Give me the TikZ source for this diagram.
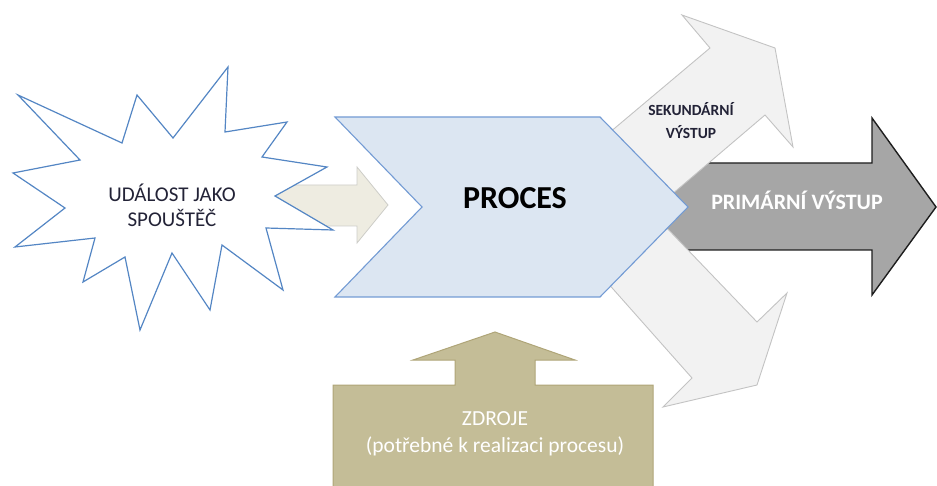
\documentclass[tikz,border=0pt]{standalone}
\usepackage{fontspec}
\setmainfont{Carlito}
\definecolor{starline}{RGB}{84,134,196}
\definecolor{chevfill}{RGB}{220,230,242}
\definecolor{chevline}{RGB}{115,155,212}
\definecolor{primfill}{RGB}{166,166,166}
\definecolor{primline}{RGB}{30,30,30}
\definecolor{secfill}{RGB}{242,242,242}
\definecolor{secline}{RGB}{195,195,195}
\definecolor{trigfill}{RGB}{238,236,225}
\definecolor{trigline}{RGB}{205,205,200}
\definecolor{resfill}{RGB}{196,189,151}
\definecolor{resline}{RGB}{175,165,120}
\definecolor{darktext}{RGB}{35,35,55}
\tikzset{
  primshape/.style={fill=primfill,draw=primline,line width=1.4pt,line join=miter},
  secshape/.style={fill=secfill,draw=secline,line width=0.9pt,line join=miter},
  chevshape/.style={fill=chevfill,draw=chevline,line width=1.1pt,line join=miter},
  trigshape/.style={fill=trigfill,draw=trigline,line width=0.8pt},
  starshape/.style={fill=white,draw=starline,line width=1.2pt,line join=miter},
  resshape/.style={fill=resfill,draw=resline,line width=1pt},
  lbl/.style={align=center,inner sep=0pt}
}
\begin{document}
\begin{tikzpicture}[x=1pt,y=-1pt]
\useasboundingbox (0,0) rectangle (937,486);
% primary output arrow
\path[primshape] (650,163) -- (872,163) -- (872,118) -- (936,207) -- (872,295) -- (872,250) -- (650,250) -- cycle;
% secondary output arrows
\path[secshape] (590,149) -- (710,48) -- (682,15) -- (775,48) -- (793,147) -- (765,115) -- (630,230) -- cycle;
\path[secshape] (640,200) -- (757,322) -- (787,293) -- (757,385) -- (663,407) -- (692,378) -- (590,263) -- cycle;
% process chevron
\path[chevshape] (335,117) -- (600,117) -- (688,207) -- (600,297) -- (335,297) -- (422,207) -- cycle;
% trigger arrow
\path[trigshape] (250,185) -- (357,185) -- (357,167) -- (388,205) -- (357,243) -- (357,226) -- (250,226) -- cycle;
% event starburst
\path[starshape] (18,95) -- (122,143) -- (137,95) -- (173,138) -- (228,67) -- (225,132) -- (287,122) -- (262,157) -- (327,167) -- (275,196) -- (333,230) -- (266,228) -- (283,290) -- (222,245) -- (210,310) -- (172,253) -- (140,330) -- (125,257) -- (83,282) -- (95,238) -- (15,247) -- (65,208) -- (13,173) -- (80,160) -- cycle;
% resources
\path[resshape] (333,490) -- (333,385) -- (455,385) -- (455,360) -- (413,360) -- (495,332) -- (575,360) -- (535,360) -- (535,385) -- (653,385) -- (653,490) -- cycle;
% labels
\node[lbl,text=darktext,font=\fontsize{21}{25}\selectfont] (event) at (172,205) {UDÁLOST JAKO\\SPOUŠTĚČ};
\node[lbl,text=black,font=\bfseries\fontsize{32}{36}\selectfont] (proces) at (515,198) {PROCES};
\node[lbl,text=white,font=\bfseries\fontsize{22}{26}\selectfont] (prim) at (797,200) {PRIMÁRNÍ VÝSTUP};
\node[lbl,text=darktext,font=\bfseries\fontsize{15.5}{23}\selectfont] (sec) at (691,121) {SEKUNDÁRNÍ\\VÝSTUP};
\node[lbl,text=white,font=\fontsize{21.5}{27}\selectfont] (res) at (495,434) {ZDROJE\\(potřebné k realizaci procesu)};
\end{tikzpicture}
\end{document}
